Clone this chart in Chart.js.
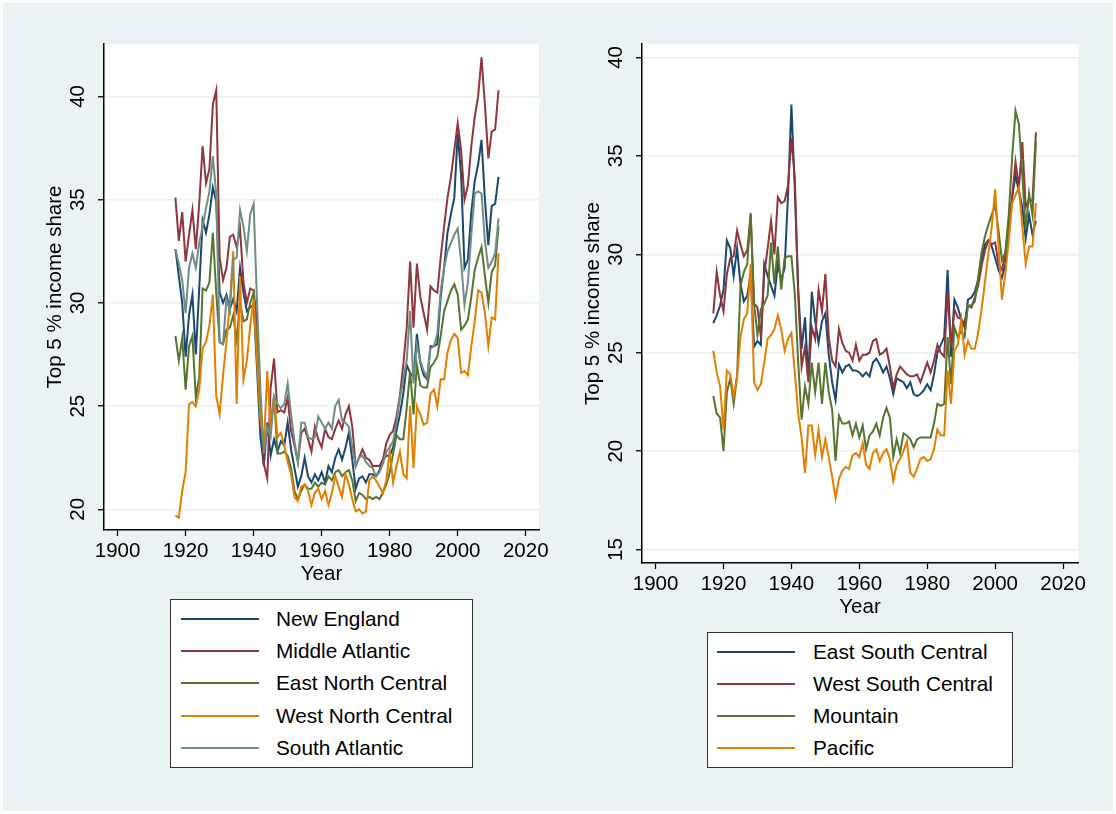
<!DOCTYPE html>
<html>
<head>
<meta charset="utf-8">
<script src="https://cdn.jsdelivr.net/npm/chart.js@4.4.1/dist/chart.umd.min.js"></script>
<style>
  body { margin: 0; background: #fff; }
  #page { position: relative; width: 1116px; height: 814px; overflow: hidden; background: #fff;
          font-family: "Liberation Sans", Arial, sans-serif; }
  #region { position: absolute; left: 3px; top: 3px; right: 3px; bottom: 3px; background: #eaf2f3; }
  canvas { position: absolute; top: 0; }
  .legend { position: absolute; background: #fff; border: 1.5px solid #333; box-sizing: border-box; }
  .legend .row { position: absolute; left: 0; height: 0; }
  .legend .swatch { position: absolute; height: 2px; top: -1px; width: 78px; }
  .legend .label { position: absolute; top: -13px; font-size: 20.8px; line-height: 26px; color: #000; white-space: nowrap; }
</style>
</head>
<body>
<div id="page">
  <div id="region"></div>
  <canvas id="leftChart" width="560" height="600" style="left:0px"></canvas>
  <canvas id="rightChart" width="558" height="630" style="left:558px"></canvas>
  <div id="leftLegend" class="legend" style="left:170px; top:599px; width:303px; height:169px;"></div>
  <div id="rightLegend" class="legend" style="left:707px; top:632px; width:306px; height:136px;"></div>
</div>
<script>
const years = [1917, 1918, 1919, 1920, 1921, 1922, 1923, 1924, 1925, 1926, 1927, 1928, 1929, 1930, 1931, 1932,
  1933, 1934, 1935, 1936, 1937, 1938, 1939, 1940, 1941, 1942, 1943, 1944, 1945, 1946, 1947, 1948,
  1949, 1950, 1951, 1952, 1953, 1954, 1955, 1956, 1957, 1958, 1959, 1960, 1961, 1962, 1963, 1964,
  1965, 1966, 1967, 1968, 1969, 1970, 1971, 1972, 1973, 1974, 1975, 1976, 1977, 1978, 1979, 1980,
  1981, 1982, 1983, 1984, 1985, 1986, 1987, 1988, 1989, 1990, 1991, 1992, 1993, 1994, 1995, 1996,
  1997, 1998, 1999, 2000, 2001, 2002, 2003, 2004, 2005, 2006, 2007, 2008, 2009, 2010, 2011, 2012];

// left panel
const newEngland = [32.6, 31.3, 30.0, 27.4, 29.4, 30.4, 27.5, 30.7, 34.0, 33.4, 34.3, 35.6, 34.9, 30.5, 30.0, 30.4,
  29.7, 30.2, 29.6, 31.7, 30.5, 29.6, 29.8, 29.9, 26.8, 23.5, 22.1, 24.2, 22.6, 23.4, 22.8, 23.3,
  23.1, 24.2, 22.9, 22.0, 21.1, 21.6, 22.5, 21.6, 21.3, 21.7, 21.4, 21.8, 21.3, 22.1, 21.8, 22.5,
  22.9, 22.4, 23.0, 23.7, 22.4, 21.0, 21.5, 21.6, 21.3, 21.7, 21.7, 21.6, 21.9, 22.4, 22.6, 22.6,
  23.0, 23.8, 24.6, 25.6, 27.0, 26.6, 26.4, 28.5, 27.1, 26.5, 26.3, 27.9, 27.9, 28.0, 30.3, 31.7,
  33.4, 34.3, 35.1, 38.2, 36.2, 31.7, 32.1, 34.4, 35.9, 36.7, 37.9, 35.0, 32.8, 34.7, 34.8, 36.1];
const middleAtlantic = [35.1, 33.0, 34.4, 32.0, 33.3, 34.5, 32.6, 34.8, 37.6, 35.8, 36.5, 39.6, 40.3, 32.2, 31.1, 31.7,
  33.2, 33.3, 32.7, 33.6, 31.0, 30.0, 30.7, 30.6, 29.0, 25.0, 22.2, 21.5, 25.9, 27.3, 24.7, 24.8,
  24.7, 25.4, 23.8, 23.1, 22.3, 23.7, 23.9, 23.4, 22.8, 24.0, 23.4, 23.0, 23.9, 23.5, 23.4, 23.9,
  24.3, 23.9, 24.6, 25.0, 24.0, 22.1, 22.5, 22.9, 22.5, 22.4, 22.1, 22.1, 22.1, 22.4, 23.2, 23.6,
  23.8, 24.5, 25.5, 27.0, 28.8, 32.0, 28.8, 31.9, 30.3, 29.5, 28.7, 30.8, 30.6, 30.5, 32.2, 33.7,
  35.1, 36.1, 37.4, 38.7, 37.4, 35.0, 35.7, 37.6, 39.0, 40.0, 41.9, 39.6, 37.0, 38.3, 38.4, 40.3];
const eastNorthCentral = [28.4, 27.2, 28.3, 25.8, 27.9, 28.4, 25.4, 26.4, 30.7, 30.6, 31.0, 33.4, 30.5, 28.1, 28.0, 28.7,
  28.8, 29.4, 28.2, 30.0, 29.1, 29.2, 30.0, 30.5, 27.6, 24.4, 23.3, 23.7, 24.1, 25.5, 22.7, 22.7,
  22.8, 22.6, 22.0, 20.9, 20.5, 20.9, 21.2, 21.0, 21.0, 21.3, 21.1, 21.3, 21.2, 21.6, 21.4, 21.8,
  21.9, 21.6, 21.8, 21.9, 21.4, 20.4, 20.8, 20.7, 20.5, 20.6, 20.5, 20.6, 20.5, 20.8, 21.2, 21.8,
  22.7, 23.6, 23.4, 23.4, 24.9, 26.7, 24.6, 27.0, 26.0, 25.9, 25.9, 26.9, 27.1, 27.4, 28.4, 29.6,
  30.1, 30.6, 30.9, 30.4, 28.7, 28.9, 29.2, 30.3, 31.6, 32.2, 32.7, 31.3, 30.0, 31.5, 31.8, 33.7];
const westNorthCentral = [19.7, 19.6, 20.9, 21.8, 25.1, 25.2, 25.0, 25.8, 27.8, 28.1, 28.9, 30.4, 25.5, 24.6, 26.5, 28.1,
  30.0, 32.5, 25.1, 31.3, 26.3, 27.2, 28.9, 30.2, 27.2, 24.4, 23.1, 26.7, 23.8, 25.5, 23.5, 23.7,
  23.1, 22.3, 21.7, 20.6, 20.4, 21.1, 21.2, 20.9, 20.2, 20.8, 21.0, 20.5, 20.9, 20.2, 20.8, 21.6,
  21.1, 20.6, 21.7, 21.2, 20.5, 19.9, 20.0, 19.8, 19.9, 21.4, 21.6, 21.4, 21.1, 20.8, 21.4, 22.8,
  21.3, 22.1, 22.8, 21.7, 21.5, 25.0, 22.0, 25.0, 24.6, 24.1, 24.2, 25.6, 25.8, 25.0, 26.3, 26.3,
  27.6, 28.2, 28.5, 28.3, 26.6, 26.7, 26.5, 27.9, 29.1, 30.6, 30.5, 29.5, 27.9, 29.3, 29.2, 32.4];
const southAtlantic = [32.6, 31.9, 31.1, 29.5, 31.7, 32.4, 31.7, 32.9, 33.7, 34.6, 35.4, 37.1, 35.3, 28.1, 28.0, 30.2,
  29.6, 32.1, 32.2, 34.5, 33.7, 32.5, 34.3, 34.8, 30.0, 25.8, 22.7, 24.0, 23.5, 25.5, 25.1, 24.9,
  25.1, 26.1, 24.6, 23.3, 22.3, 24.2, 24.2, 23.5, 23.4, 23.5, 24.5, 24.2, 23.9, 24.2, 23.9, 25.0,
  25.3, 24.3, 24.2, 24.0, 23.0, 22.1, 22.5, 22.6, 22.3, 22.1, 22.0, 21.6, 21.8, 22.2, 22.8, 23.0,
  23.3, 24.2, 25.4, 26.3, 27.2, 29.6, 26.1, 28.0, 27.2, 26.7, 26.4, 27.8, 27.9, 28.5, 30.6, 31.7,
  32.5, 32.9, 33.3, 33.6, 32.0, 29.9, 31.0, 33.3, 35.3, 35.4, 35.3, 33.0, 31.7, 32.0, 32.4, 34.1];

// right panel
const eastSouthCentral = [26.5, 26.9, 27.4, 28.2, 30.7, 30.3, 28.9, 30.3, 28.5, 27.6, 27.9, 29.0, 25.3, 25.6, 25.4, 29.5,
  28.9, 28.4, 27.9, 29.5, 28.7, 29.3, 33.0, 37.6, 33.3, 28.2, 25.2, 26.8, 23.7, 28.1, 26.6, 25.5,
  26.6, 27.0, 24.9, 23.5, 22.6, 24.4, 24.0, 24.3, 24.4, 24.1, 24.1, 24.0, 23.8, 24.0, 23.8, 24.5,
  24.7, 24.4, 24.0, 24.3, 23.7, 22.9, 23.7, 23.6, 23.5, 23.2, 23.5, 22.9, 22.8, 22.9, 23.1, 23.4,
  23.1, 23.9, 25.0, 25.4, 25.8, 29.2, 24.8, 27.7, 27.3, 26.7, 26.3, 27.7, 27.8, 28.1, 28.7, 29.7,
  30.5, 30.7, 30.4, 29.8, 29.2, 28.8, 29.5, 31.2, 32.9, 34.0, 33.2, 32.4, 30.8, 32.0, 31.0, 31.7];
const westSouthCentral = [27.0, 29.1, 27.9, 27.1, 29.0, 29.8, 29.9, 31.2, 30.5, 29.9, 30.2, 32.0, 27.5, 27.3, 25.8, 29.0,
  30.3, 31.7, 30.0, 32.9, 32.6, 32.7, 33.5, 35.9, 33.9, 28.0, 24.3, 25.3, 23.5, 26.3, 25.7, 28.2,
  27.1, 29.0, 25.8, 24.6, 24.3, 26.2, 25.5, 25.1, 25.0, 24.6, 25.4, 24.6, 24.9, 24.9, 25.0, 25.6,
  25.7, 24.9, 25.0, 25.2, 24.3, 23.2, 23.9, 24.3, 24.1, 23.9, 23.8, 23.8, 23.9, 23.5, 24.0, 24.5,
  24.0, 24.6, 25.4, 25.0, 24.8, 28.1, 25.3, 27.2, 26.8, 26.7, 26.5, 27.4, 27.3, 27.8, 28.4, 29.4,
  30.2, 30.7, 30.5, 30.6, 29.5, 29.2, 30.0, 31.6, 32.9, 34.7, 33.4, 35.7, 32.4, 32.8, 32.7, 36.2];
const mountain = [22.8, 21.9, 21.7, 20.0, 23.0, 23.7, 22.4, 23.8, 28.4, 29.1, 29.5, 32.1, 27.5, 25.9, 27.2, 27.5,
  27.9, 30.6, 28.5, 30.4, 28.2, 29.8, 29.9, 29.9, 28.0, 24.5, 21.6, 23.3, 22.4, 24.5, 23.0, 24.5,
  22.4, 24.5, 23.0, 22.1, 19.5, 21.8, 21.4, 21.4, 21.5, 20.8, 21.4, 20.7, 21.3, 20.1, 20.8, 21.0,
  21.4, 20.8, 21.7, 22.2, 21.7, 19.7, 20.6, 19.9, 20.9, 20.8, 20.6, 20.2, 20.6, 20.7, 20.7, 20.7,
  20.7, 21.4, 22.4, 22.3, 22.4, 25.8, 23.4, 26.3, 25.8, 26.1, 25.8, 27.4, 27.4, 27.6, 28.8, 30.1,
  30.9, 31.5, 32.0, 32.5, 31.2, 29.7, 30.1, 32.0, 34.9, 37.3, 36.6, 34.0, 31.3, 33.1, 32.0, 35.7];
const pacific = [25.1, 24.0, 23.3, 21.1, 24.1, 23.9, 22.8, 23.8, 25.8, 26.7, 27.0, 29.5, 23.5, 23.1, 23.4, 24.5,
  25.7, 25.9, 26.2, 26.9, 26.2, 25.1, 25.7, 26.0, 24.0, 21.9, 20.7, 18.9, 21.3, 21.3, 19.8, 21.1,
  19.7, 20.6, 19.7, 18.7, 17.6, 18.6, 19.0, 19.2, 19.1, 19.8, 19.9, 19.7, 20.4, 19.3, 19.1, 19.9,
  20.1, 19.5, 19.9, 20.1, 19.6, 18.5, 19.3, 19.6, 20.0, 20.5, 18.9, 18.7, 19.1, 19.6, 19.7, 19.5,
  19.6, 20.1, 21.1, 20.8, 20.8, 24.1, 22.4, 25.1, 25.4, 26.7, 24.9, 25.6, 25.2, 25.2, 26.0, 27.2,
  28.6, 30.0, 31.4, 33.3, 30.4, 27.7, 29.0, 30.7, 32.6, 33.0, 33.4, 31.4, 29.5, 30.4, 30.4, 32.6];

const xTicks = [1900, 1920, 1940, 1960, 1980, 2000, 2020];
const leftYTicks = [20, 25, 30, 35, 40];
const rightYTicks = [15, 20, 25, 30, 35, 40];

const leftNames = ['New England', 'Middle Atlantic', 'East North Central', 'West North Central', 'South Atlantic'];
const rightNames = ['East South Central', 'West South Central', 'Mountain', 'Pacific'];

// stata s2color
const colors = ['#1a476f', '#90353b', '#55752f', '#e37e00', '#6e8e84'];
const fontFamily = '"Liberation Sans", Arial, sans-serif';
const fontSize = 20.5;

const plotBackground = {
  id: 'plotBackground',
  beforeDraw(chart) {
    const { ctx, chartArea: a } = chart;
    ctx.save();
    ctx.fillStyle = '#fff';
    ctx.fillRect(a.left, a.top, a.right - a.left, a.bottom - a.top);
    ctx.restore();
  }
};

// stata writes the y labels turned on their side
const rotatedYLabels = {
  id: 'rotatedYLabels',
  afterDraw(chart) {
    const { ctx, chartArea } = chart;
    const y = chart.scales.y;
    ctx.save();
    ctx.fillStyle = '#000';
    ctx.font = fontSize + 'px ' + fontFamily;
    ctx.textAlign = 'center';
    ctx.textBaseline = 'middle';
    y.ticks.forEach(t => {
      ctx.save();
      ctx.translate(chartArea.left - 26, y.getPixelForValue(t.value));
      ctx.rotate(-Math.PI / 2);
      ctx.fillText(String(t.value), 0, 0);
      ctx.restore();
    });
    ctx.restore();
  }
};

function makePanel(id, names, series, yTicks, yMin, yMax, xMax, box) {
  const datasets = series.map((values, i) => ({
    label: names[i],
    data: years.map((yr, j) => ({ x: yr, y: values[j] })),
    borderColor: colors[i],
    borderWidth: 2,
    pointRadius: 0,
    tension: 0,
    fill: false,
    order: series.length - i
  }));

  return new Chart(document.getElementById(id), {
    type: 'line',
    data: { datasets },
    options: {
      responsive: false,
      animation: false,
      layout: { padding: { top: 44, right: box.padRight, left: 0, bottom: 0 } },
      plugins: { legend: { display: false }, tooltip: { enabled: false } },
      scales: {
        x: {
          type: 'linear',
          min: 1896,
          max: xMax,
          afterBuildTicks: s => { s.ticks = xTicks.map(v => ({ value: v })); },
          afterFit: s => { s.height = box.xAxisHeight; },
          grid: { drawOnChartArea: false, drawTicks: true, tickLength: 6, tickColor: '#000', tickWidth: 1.3 },
          border: { color: '#000', width: 1.5 },
          ticks: { autoSkip: false, maxRotation: 0, padding: 3, color: '#000',
                   callback: v => String(v),
                   font: { family: fontFamily, size: fontSize } },
          title: { display: true, text: 'Year', color: '#000', padding: { top: 0, bottom: box.xTitlePad },
                   font: { family: fontFamily, size: fontSize } }
        },
        y: {
          min: yMin,
          max: yMax,
          afterBuildTicks: s => { s.ticks = yTicks.map(v => ({ value: v })); },
          afterFit: s => { s.width = box.yAxisWidth; },
          grid: { color: '#e8f0f1', lineWidth: 1.5, drawTicks: true, tickLength: 6, tickColor: '#000', tickWidth: 1.3 },
          border: { color: '#000', width: 1.5 },
          ticks: { display: false },
          title: { display: true, text: 'Top 5 % income share', color: '#000',
                   padding: { top: box.yTitlePad, bottom: 0 },
                   font: { family: fontFamily, size: fontSize } }
        }
      }
    },
    plugins: [plotBackground, rotatedYLabels]
  });
}

makePanel('leftChart', leftNames,
  [newEngland, middleAtlantic, eastNorthCentral, westNorthCentral, southAtlantic],
  leftYTicks, 19.0, 42.54, 2023.9,
  { padRight: 21, xAxisHeight: 70, yAxisWidth: 104, xTitlePad: 13.7, yTitlePad: 43 });

makePanel('rightChart', rightNames,
  [eastSouthCentral, westSouthCentral, mountain, pacific],
  rightYTicks, 14.32, 40.68, 2024.4,
  { padRight: 38, xAxisHeight: 67, yAxisWidth: 84, xTitlePad: 10.7, yTitlePad: 23 });

function buildLegend(id, names, firstRow, gap, lineLeft, textLeft) {
  const el = document.getElementById(id);
  names.forEach((name, i) => {
    const row = document.createElement('div');
    row.className = 'row';
    row.style.top = (firstRow + i * gap) + 'px';
    const sw = document.createElement('div');
    sw.className = 'swatch';
    sw.style.left = lineLeft + 'px';
    sw.style.background = colors[i];
    const lb = document.createElement('div');
    lb.className = 'label';
    lb.style.left = textLeft + 'px';
    lb.textContent = name;
    row.appendChild(sw);
    row.appendChild(lb);
    el.appendChild(row);
  });
}

buildLegend('leftLegend', leftNames, 19, 32.2, 10, 105);
buildLegend('rightLegend', rightNames, 19, 32, 9, 105);
</script>
</body>
</html>
